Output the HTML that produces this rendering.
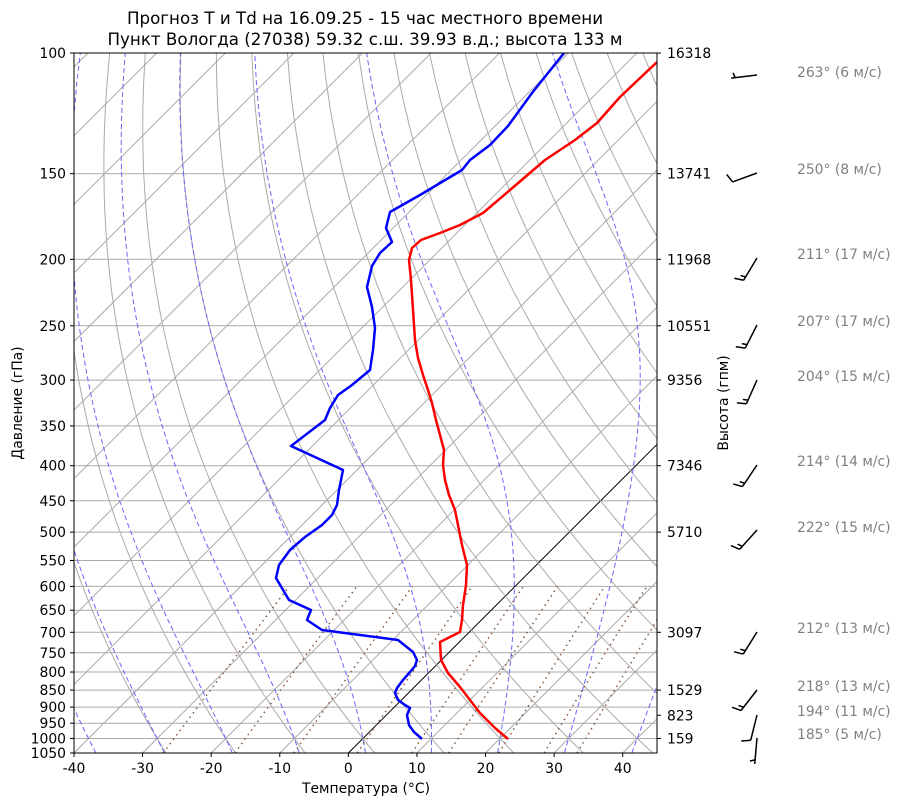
<!DOCTYPE html>
<html><head><meta charset="utf-8"><style>
body{margin:0;background:#fff}
svg text{font-family:"DejaVu Sans","Liberation Sans",sans-serif;font-size:13.9px;fill:#000}
svg text.g{fill:#808080}
</style></head><body>
<svg id="s" width="900" height="806" xmlns="http://www.w3.org/2000/svg">
<defs><clipPath id="c"><rect x="74" y="53" width="583" height="700"/></clipPath></defs>
<g id="grid" clip-path="url(#c)"></g>
<g clip-path="url(#c)">
<polyline fill="none" stroke="#f00" stroke-width="2.5" stroke-linejoin="round" points="508,739 495,728 480,713 470,700 460,687 448,673 441,660 440,642 460,632 462,620 463,605 466,585 467,565 462,545 458,525 455,510 449,495 445,480 443,465 444,450 440,435 436,420 432,403 428,390 423,375 418,358 415,340 413,310 411,280 409,260 412,248 421,240 440,233 460,225 483,213 510,190 545,160 575,140 597,123 620,97 657,62"/>
<polyline fill="none" stroke="#00f" stroke-width="2.5" stroke-linejoin="round" points="422,739 414,732 409,725 407,715 410,708 405,705 398,700 395,693 397,688 403,680 410,672 415,666 417,660 413,652 398,640 322,630 307,620 311,610 289,600 276,578 279,565 290,550 305,537 322,525 332,515 337,505 339,490 341,480 343,470 291,446 325,420 330,408 338,395 352,385 370,370 373,350 375,328 372,307 367,287 372,266 380,253 392,242 386,228 390,212 420,195 462,170 470,160 490,145 508,126 532,93 564,53"/>
</g>
<rect x="74" y="53" width="583" height="700" fill="none" stroke="#000" stroke-width="1"/>
<g id="ticks"></g>
<g id="barbs" stroke="#000" stroke-width="1.5" fill="none"></g>
<text x="365" y="24" text-anchor="middle" style="font-size:16.7px">Прогноз T и Td на 16.09.25 - 15 час местного времени</text>
<text x="365" y="45" text-anchor="middle" style="font-size:16.7px">Пункт Вологда (27038) 59.32 с.ш. 39.93 в.д.; высота 133 м</text>
<text x="366" y="793" text-anchor="middle">Температура (°C)</text>
<text transform="translate(22,403) rotate(-90)" text-anchor="middle">Давление (гПа)</text>
<text transform="translate(728,403) rotate(-90)" text-anchor="middle">Высота (гпм)</text>
<text class="g" x="797" y="77">263° (6 м/с)</text>
<text class="g" x="797" y="174">250° (8 м/с)</text>
<text class="g" x="797" y="259">211° (17 м/с)</text>
<text class="g" x="797" y="326">207° (17 м/с)</text>
<text class="g" x="797" y="381">204° (15 м/с)</text>
<text class="g" x="797" y="466">214° (14 м/с)</text>
<text class="g" x="797" y="532">222° (15 м/с)</text>
<text class="g" x="797" y="633">212° (13 м/с)</text>
<text class="g" x="797" y="691">218° (13 м/с)</text>
<text class="g" x="797" y="716">194° (11 м/с)</text>
<text class="g" x="797" y="739">185° (5 м/с)</text>
<g id="lab"></g>
</svg>
<script>
var NS="http://www.w3.org/2000/svg";
function Y(p){return 53+Math.log(p/100)/Math.log(10.5)*700;}
function X(T,p){return 74+(T+40)*583/85+(753-Y(p));}
function el(par,tag,a,txt){var e=document.createElementNS(NS,tag);for(var k in a)e.setAttribute(k,a[k]);if(txt!=null)e.textContent=txt;document.getElementById(par).appendChild(e);return e;}
function line(pts,a){el("grid","polyline",Object.assign({points:pts.map(function(q){return q[0].toFixed(1)+","+q[1].toFixed(1)}).join(" "),fill:"none"},a));}
var P=[100,150,200,250,300,350,400,450,500,550,600,650,700,750,800,850,900,950,1000,1050];
P.forEach(function(p){line([[74,Y(p)],[657,Y(p)]],{stroke:"#aaa","stroke-width":1});});
for(var T=-150;T<=50;T+=10){line([[X(T,1050),Y(1050)],[X(T,100),Y(100)]],{stroke:T==0?"#000":"#aaa","stroke-width":1});}
for(var th=-30;th<=200;th+=10){var pts=[];for(var p=1050;p>=100;p-=10){var t=(th+273.15)*Math.pow(p/1000,0.2857)-273.15;pts.push([X(t,p),Y(p)]);}line(pts,{stroke:"#aaa","stroke-width":1});}
function es(Tc){return 6.112*Math.exp(17.67*Tc/(Tc+243.5));}
function dTdp(T,p){var Tc=T-273.15,e=es(Tc),rs=0.622*e/(p-e);return (287*T+2.5e6*rs)/(p*(1004+2.5e6*2.5e6*rs*0.622/(287*T*T)));}
for(var t0=-40;t0<=40;t0+=10){(function(t0){var pts=[],T=t0+273.15,p;
 var Td=T;for(p=1000;p<1050;p+=2){Td+=dTdp(Td,p+1)*2;}
 T=Td;for(p=1050;p>=100;p-=2){if(p%10==0)pts.push([X(T-273.15,p),Y(p)]);T-=dTdp(T,p-1)*2;}
 line(pts,{stroke:"#66f","stroke-width":1,"stroke-dasharray":"5,3"});})(t0);}
[0.0004,0.001,0.002,0.004,0.007,0.01,0.016,0.024,0.032].forEach(function(w){var pts=[];for(var p=1050;p>=600;p-=10){var e=p*w/(0.622+w),l=Math.log(e/6.112),td=243.5*l/(17.67-l);pts.push([X(td,p),Y(p)]);}line(pts,{stroke:"#8b5a3c","stroke-width":1.5,"stroke-dasharray":"1.5,4"});});
P.forEach(function(p){var y=Y(p);el("ticks","line",{x1:70,x2:74,y1:y,y2:y,stroke:"#000"});el("lab","text",{x:66,y:y+5,"text-anchor":"end"},String(p));});
for(var t=-40;t<=40;t+=10){var x=74+(t+40)*583/85;el("ticks","line",{x1:x,x2:x,y1:753,y2:757,stroke:"#000"});el("lab","text",{x:x,y:773,"text-anchor":"middle"},String(t));}
[[100,"16318"],[150,"13741"],[200,"11968"],[250,"10551"],[300,"9356"],[400,"7346"],[500,"5710"],[700,"3097"],[850,"1529"],[925,"823"],[1000,"159"]].forEach(function(a){var y=Y(a[0]);el("ticks","line",{x1:657,x2:661,y1:y,y2:y,stroke:"#000"});el("lab","text",{x:667,y:y+5},a[1]);});
[[263,6,75],[250,8,173],[211,17,258],[207,17,325],[204,15,380],[214,14,465],[222,15,530],[212,13,632],[218,13,690],[194,11,715],[185,5,738]].forEach(function(b){
 var d=b[0]*Math.PI/180,L=26,x0=757,y0=b[2],dx=Math.sin(d),dy=-Math.cos(d);
 var x1=x0+L*dx,y1=y0+L*dy;
 el("barbs","line",{x1:x0,y1:y0,x2:x1,y2:y1});
 var px=dy,py=-dx;
 var n=Math.round(b[1]/5)/2,pos=0;
 while(n>=1){var bx=x0+(L-pos)*dx,by=y0+(L-pos)*dy;el("barbs","line",{x1:bx,y1:by,x2:bx-px*9+dx*3,y2:by-py*9+dy*3});n-=1;pos+=4;}
 if(n>=0.5){if(pos==0)pos=4;var bx=x0+(L-pos)*dx,by=y0+(L-pos)*dy;el("barbs","line",{x1:bx,y1:by,x2:bx-px*5+dx*1.5,y2:by-py*5+dy*1.5});}
});
</script>
</body></html>
